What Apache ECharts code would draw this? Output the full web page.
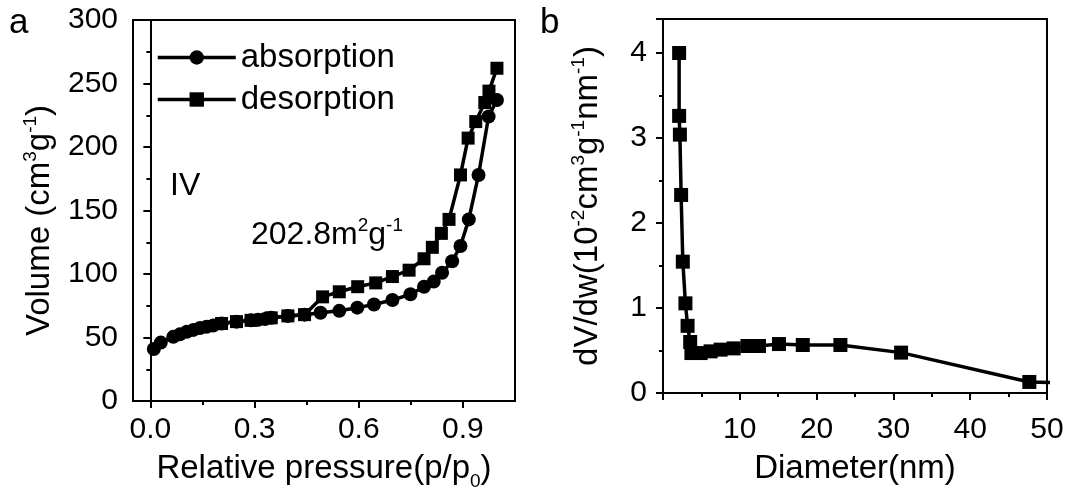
<!DOCTYPE html>
<html>
<head>
<meta charset="utf-8">
<script src="https://cdn.jsdelivr.net/npm/echarts@6/dist/echarts.min.js"></script>
<style>
  html, body { margin: 0; padding: 0; background: #fff; }
  #chart { width: 1067px; height: 492px; }
</style>
</head>
<body>
<div id="chart"></div>
<script>
// Nitrogen isotherm: relative pressure (p/p0) vs adsorbed volume (cm3/g)
const absorptionP = [0.01, 0.03, 0.066, 0.085, 0.105, 0.124, 0.143, 0.162, 0.181, 0.205, 0.248, 0.29, 0.31, 0.33, 0.348, 0.396, 0.444, 0.49, 0.544, 0.596, 0.644, 0.697, 0.749, 0.788, 0.816, 0.84, 0.869, 0.893, 0.917, 0.945, 0.974, 0.998];
const absorptionV = [41, 46, 50.5, 52.5, 54.5, 56, 57.5, 58.5, 59.5, 61, 62.5, 63.5, 64, 64.5, 65.5, 67, 68, 69.5, 71, 73.5, 76, 79.5, 84, 90, 94, 101, 110, 122, 143, 178, 224, 237];
const desorptionP = [0.998, 0.975, 0.963, 0.937, 0.915, 0.893, 0.86, 0.838, 0.812, 0.788, 0.745, 0.697, 0.649, 0.597, 0.544, 0.496, 0.444, 0.396, 0.348, 0.29, 0.248, 0.205];
const desorptionV = [262, 244, 235, 220, 207, 178, 143, 132, 121, 112, 103, 98, 93, 90, 86, 82, 68, 67, 65.5, 63.5, 62.5, 61];

// Pore size distribution: diameter (nm) vs dV/dw (10^-2 cm3 g^-1 nm^-1)
const diameterNm = [2.1, 2.1, 2.2, 2.36, 2.58, 2.92, 3.2, 3.54, 3.7, 4.9, 6.2, 7.5, 9.2, 11.0, 12.5, 15.1, 18.2, 23.1, 31.0, 47.7, 60];
const dVdw = [4.0, 3.26, 3.04, 2.33, 1.545, 1.055, 0.79, 0.60, 0.47, 0.47, 0.49, 0.51, 0.525, 0.553, 0.553, 0.576, 0.565, 0.565, 0.475, 0.13, 0.10];

// Tick labels
const pressureTicks = [0, 0.3, 0.6, 0.9];
const pressureMinorTicks = [0.15, 0.45, 0.75];
const volumeTicks = [0, 50, 100, 150, 200, 250, 300];
const diameterTicks = [0, 10, 20, 30, 40, 50];
const dVdwTicks = [0, 1, 2, 3, 4];

const FONT = 'Liberation Sans, Arial, sans-serif';
const zip = (xs, ys) => xs.map((x, i) => [x, ys[i]]);
const supRich = {
  sup: { fontSize: 19, verticalAlign: 'top', lineHeight: 38, fontFamily: FONT, color: '#000' },
  sub: { fontSize: 19, verticalAlign: 'bottom', lineHeight: 38, fontFamily: FONT, color: '#000', padding: [0, 0, -3, 0] }
};
const axisText = { fontSize: 33, color: '#000', fontFamily: FONT, lineHeight: 38, rich: supRich };
const tickText = { fontSize: 30, color: '#000', fontFamily: FONT };
const blackLine = { lineStyle: { color: '#000', width: 2 } };
const majorTick = { length: 7, lineStyle: { color: '#000', width: 2 } };
const minorTick = { show: true, splitNumber: 2, length: 4, lineStyle: { color: '#000', width: 2 } };
const frame = { show: true, borderColor: '#000', borderWidth: 2, backgroundColor: 'transparent', containLabel: false, outerBoundsMode: 'none' };

const chart = echarts.init(document.getElementById('chart'), null, { renderer: 'canvas' });

chart.setOption({
  animation: false,
  backgroundColor: '#fff',
  grid: [
    Object.assign({ left: 133, top: 20, width: 382, height: 381 }, frame),
    Object.assign({ left: 663, top: 19, width: 384, height: 374 }, frame)
  ],
  legend: {
    data: ['absorption', 'desorption'],
    orient: 'vertical',
    left: 151,
    top: 36,
    itemWidth: 78,
    itemHeight: 18,
    itemGap: 9,
    lineStyle: { width: 3.5, color: '#000' },
    textStyle: { fontSize: 33, color: '#000', fontFamily: FONT }
  },
  xAxis: [
    {
      gridIndex: 0, type: 'value', min: -0.05, max: 1.05,
      name: 'Relative pressure(p/p{sub|0})', nameLocation: 'middle', nameGap: 46,
      nameTextStyle: axisText,
      axisLine: blackLine,
      axisTick: Object.assign({ customValues: pressureTicks }, majorTick),
      axisLabel: Object.assign({ margin: 14, customValues: pressureTicks, formatter: v => v.toFixed(1) }, tickText),
      splitLine: { show: false }
    },
    {
      gridIndex: 0, type: 'value', min: -0.05, max: 1.05, position: 'bottom',
      axisLine: { show: false },
      axisTick: { show: true, length: 4, lineStyle: { color: '#000', width: 2 }, customValues: pressureMinorTicks },
      axisLabel: { show: false, customValues: pressureMinorTicks },
      splitLine: { show: false }
    },
    {
      gridIndex: 1, type: 'value', min: diameterTicks[0], max: diameterTicks[diameterTicks.length - 1], interval: 10,
      name: 'Diameter(nm)', nameLocation: 'middle', nameGap: 57,
      nameTextStyle: axisText,
      axisLine: blackLine,
      axisTick: majorTick,
      minorTick: minorTick,
      axisLabel: Object.assign({ margin: 22, formatter: v => (v === 0 ? '' : String(v)) }, tickText),
      splitLine: { show: false }
    }
  ],
  yAxis: [
    {
      gridIndex: 0, type: 'value', min: volumeTicks[0], max: volumeTicks[volumeTicks.length - 1], interval: 50,
      name: 'Volume (cm{sup|3}g{sup|-1})', nameLocation: 'middle', nameGap: 74, nameRotate: 90,
      nameTextStyle: Object.assign({}, axisText, { padding: [0, 20, 0, 0] }),
      axisLine: blackLine,
      axisTick: majorTick,
      minorTick: minorTick,
      axisLabel: Object.assign({ margin: 15 }, tickText),
      splitLine: { show: false }
    },
    {
      gridIndex: 1, type: 'value', min: dVdwTicks[0], max: 4.4, interval: 1,
      name: 'dV/dw(10{sup|-2}cm{sup|3}g{sup|-1}nm{sup|-1})', nameLocation: 'middle', nameGap: 56, nameRotate: 90,
      nameTextStyle: axisText,
      axisLine: blackLine,
      axisTick: majorTick,
      minorTick: minorTick,
      axisLabel: Object.assign({ margin: 16, formatter: v => (v > 4 ? '' : String(v)) }, tickText),
      splitLine: { show: false }
    }
  ],
  series: [
    {
      name: 'absorption', type: 'line', xAxisIndex: 0, yAxisIndex: 0,
      data: zip(absorptionP, absorptionV),
      symbol: 'circle', symbolSize: 14, showAllSymbol: true,
      lineStyle: { color: '#000', width: 3.5 }, itemStyle: { color: '#000' }
    },
    {
      name: 'desorption', type: 'line', xAxisIndex: 0, yAxisIndex: 0,
      data: zip(desorptionP, desorptionV),
      symbol: 'rect', symbolSize: 13, showAllSymbol: true,
      lineStyle: { color: '#000', width: 3.5 }, itemStyle: { color: '#000' }
    },
    {
      name: 'pore', type: 'line', xAxisIndex: 2, yAxisIndex: 1,
      data: zip(diameterNm, dVdw),
      symbol: 'rect', symbolSize: 14, showAllSymbol: true, clip: true,
      lineStyle: { color: '#000', width: 3.5 }, itemStyle: { color: '#000' }
    }
  ],
  graphic: [
    { type: 'text', left: 9, top: 6, style: { text: 'a', fontSize: 35, fill: '#000', fontFamily: FONT } },
    { type: 'text', left: 540, top: 6, style: { text: 'b', fontSize: 35, fill: '#000', fontFamily: FONT } },
    { type: 'text', left: 170, top: 170, style: { text: 'IV', fontSize: 32, fill: '#000', fontFamily: FONT } },
    {
      type: 'text', left: 251, top: 216,
      style: {
        text: '202.8m{sup|2}g{sup|-1}', fontSize: 32, fill: '#000', fontFamily: FONT, lineHeight: 38,
        rich: {
          sup: { fontSize: 19, verticalAlign: 'top', lineHeight: 38, fill: '#000', fontFamily: FONT }
        }
      }
    }
  ]
});
</script>
</body>
</html>
